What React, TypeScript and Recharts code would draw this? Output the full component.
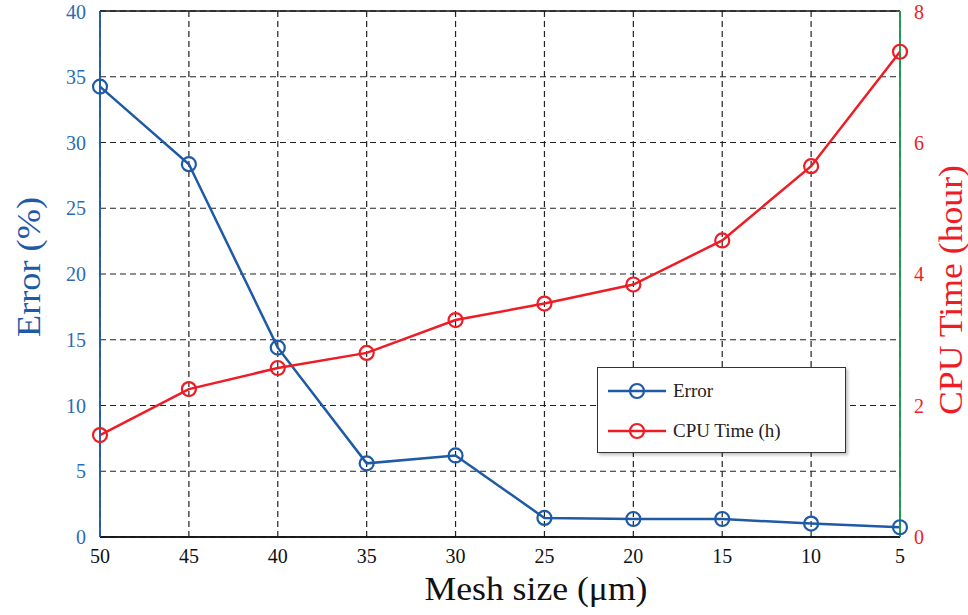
import { LineChart, Line, XAxis, YAxis, CartesianGrid, Legend, ReferenceLine } from 'recharts';

// mesh sizes (µm), coarse to fine
const meshSizes = ['50', '45', '40', '35', '30', '25', '20', '15', '10', '5'];
// error in percent
const errorValues = [34.25, 28.35, 14.4, 5.6, 6.2, 1.45, 1.37, 1.37, 1.02, 0.74];
// cpu time in hours
const cpuHours = [1.55, 2.25, 2.57, 2.8, 3.3, 3.55, 3.84, 4.51, 5.64, 7.38];

const errorTicks = [0, 5, 10, 15, 20, 25, 30, 35, 40];
const cpuTicks = [0, 2, 4, 6, 8];

const BLUE = '#1f5aa6';
const RED = '#ee1c25';
const GREEN = '#1a9a4a';
const FONT = '"Liberation Serif", "Times New Roman", serif';

const data = meshSizes.map((m, i) => ({ mesh: m, error: errorValues[i], cpu: cpuHours[i] }));

const legendItems = [
    { label: 'Error', color: BLUE },
    { label: 'CPU Time (h)', color: RED }
];

function LegendBox() {
    return (
        <div style={{
            position: 'absolute', left: 597, top: 367, width: 247, height: 84,
            border: '1.5px solid #333', background: '#fff', fontFamily: FONT,
            boxShadow: '2px 2px 3px rgba(0,0,0,0.25)'
        }}>
            {legendItems.map((it, i) => (
                <div key={it.label} style={{ position: 'absolute', left: 10, top: 10 + i * 40, height: 26, display: 'flex', alignItems: 'center' }}>
                    <svg width={58} height={20}>
                        <line x1={0} y1={10} x2={58} y2={10} stroke={it.color} strokeWidth={2.5} />
                        <circle cx={29} cy={10} r={7} fill="none" stroke={it.color} strokeWidth={2.2} />
                    </svg>
                    <span style={{ marginLeft: 7, fontSize: 19, color: '#222' }}>{it.label}</span>
                </div>
            ))}
        </div>
    );
}

export default function App() {
    const dot = (c: string) => ({ r: 7, fill: 'none', stroke: c, strokeWidth: 2.2 });

    return (
        <div style={{ position: 'absolute', left: 0, top: 0, width: 968, height: 615, background: '#fff' }}>
            <LineChart width={968} height={615} data={data} margin={{ top: 11, right: 0, bottom: 0, left: 0 }}>
                <CartesianGrid yAxisId="err" stroke="#222" strokeDasharray="6 4" strokeWidth={1.2} />
                <XAxis
                    dataKey="mesh"
                    height={78}
                    stroke="#111"
                    strokeWidth={1.5}
                    tickLine={false}
                    tickMargin={6}
                    tick={{ fill: '#111', fontSize: 20, fontFamily: FONT }}
                    label={({ viewBox }: any) => (
                        <text x={viewBox.x + viewBox.width / 2 + 36} y={viewBox.y + 63} textAnchor="middle"
                            textLength={223} lengthAdjust="spacingAndGlyphs"
                            fontFamily={FONT} fontSize={33} fill="#111">Mesh size (μm)</text>
                    )}
                />
                <YAxis
                    yAxisId="err"
                    width={100}
                    domain={[0, 40]}
                    ticks={errorTicks}
                    stroke={BLUE}
                    strokeWidth={1.5}
                    tickLine={false}
                    tickMargin={8}
                    tick={{ fill: '#2b6bb3', fontSize: 20, fontFamily: FONT }}
                    label={({ viewBox }: any) => {
                        const cx = 28, cy = viewBox.y + viewBox.height / 2 - 7;
                        return (
                            <text x={cx} y={cy} transform={`rotate(-90 ${cx} ${cy})`} textAnchor="middle" dominantBaseline="central"
                                textLength={140} lengthAdjust="spacingAndGlyphs"
                                fontFamily={FONT} fontSize={34} fill={BLUE}>Error (%)</text>
                        );
                    }}
                />
                <YAxis
                    yAxisId="cpu"
                    orientation="right"
                    width={68}
                    domain={[0, 8]}
                    ticks={cpuTicks}
                    stroke={GREEN}
                    strokeWidth={1.5}
                    tickLine={false}
                    tickMargin={8}
                    tick={{ fill: RED, fontSize: 20, fontFamily: FONT }}
                    label={({ viewBox }: any) => {
                        const cx = 951, cy = viewBox.y + viewBox.height / 2 + 16;
                        return (
                            <text x={cx} y={cy} transform={`rotate(-90 ${cx} ${cy})`} textAnchor="middle" dominantBaseline="central"
                                textLength={250} lengthAdjust="spacingAndGlyphs"
                                fontFamily={FONT} fontSize={33} fill={RED}>CPU Time (hour)</text>
                        );
                    }}
                />
                {/* solid frame over the dashed grid */}
                <ReferenceLine yAxisId="err" y={40} stroke="#111" strokeWidth={1.5} />
                <ReferenceLine yAxisId="err" y={0} stroke="#111" strokeWidth={1.5} />
                <ReferenceLine yAxisId="err" x="50" stroke={BLUE} strokeWidth={1.5} />
                <ReferenceLine yAxisId="err" x="5" stroke={GREEN} strokeWidth={1.5} />
                <Line yAxisId="err" dataKey="error" stroke={BLUE} strokeWidth={2.5} dot={dot(BLUE)} isAnimationActive={false} />
                <Line yAxisId="cpu" dataKey="cpu" stroke={RED} strokeWidth={2.5} dot={dot(RED)} isAnimationActive={false} />
                <Legend content={() => <LegendBox />} wrapperStyle={{ position: 'absolute', left: 0, top: 0, width: 0, height: 0 }} />
            </LineChart>
        </div>
    );
}
